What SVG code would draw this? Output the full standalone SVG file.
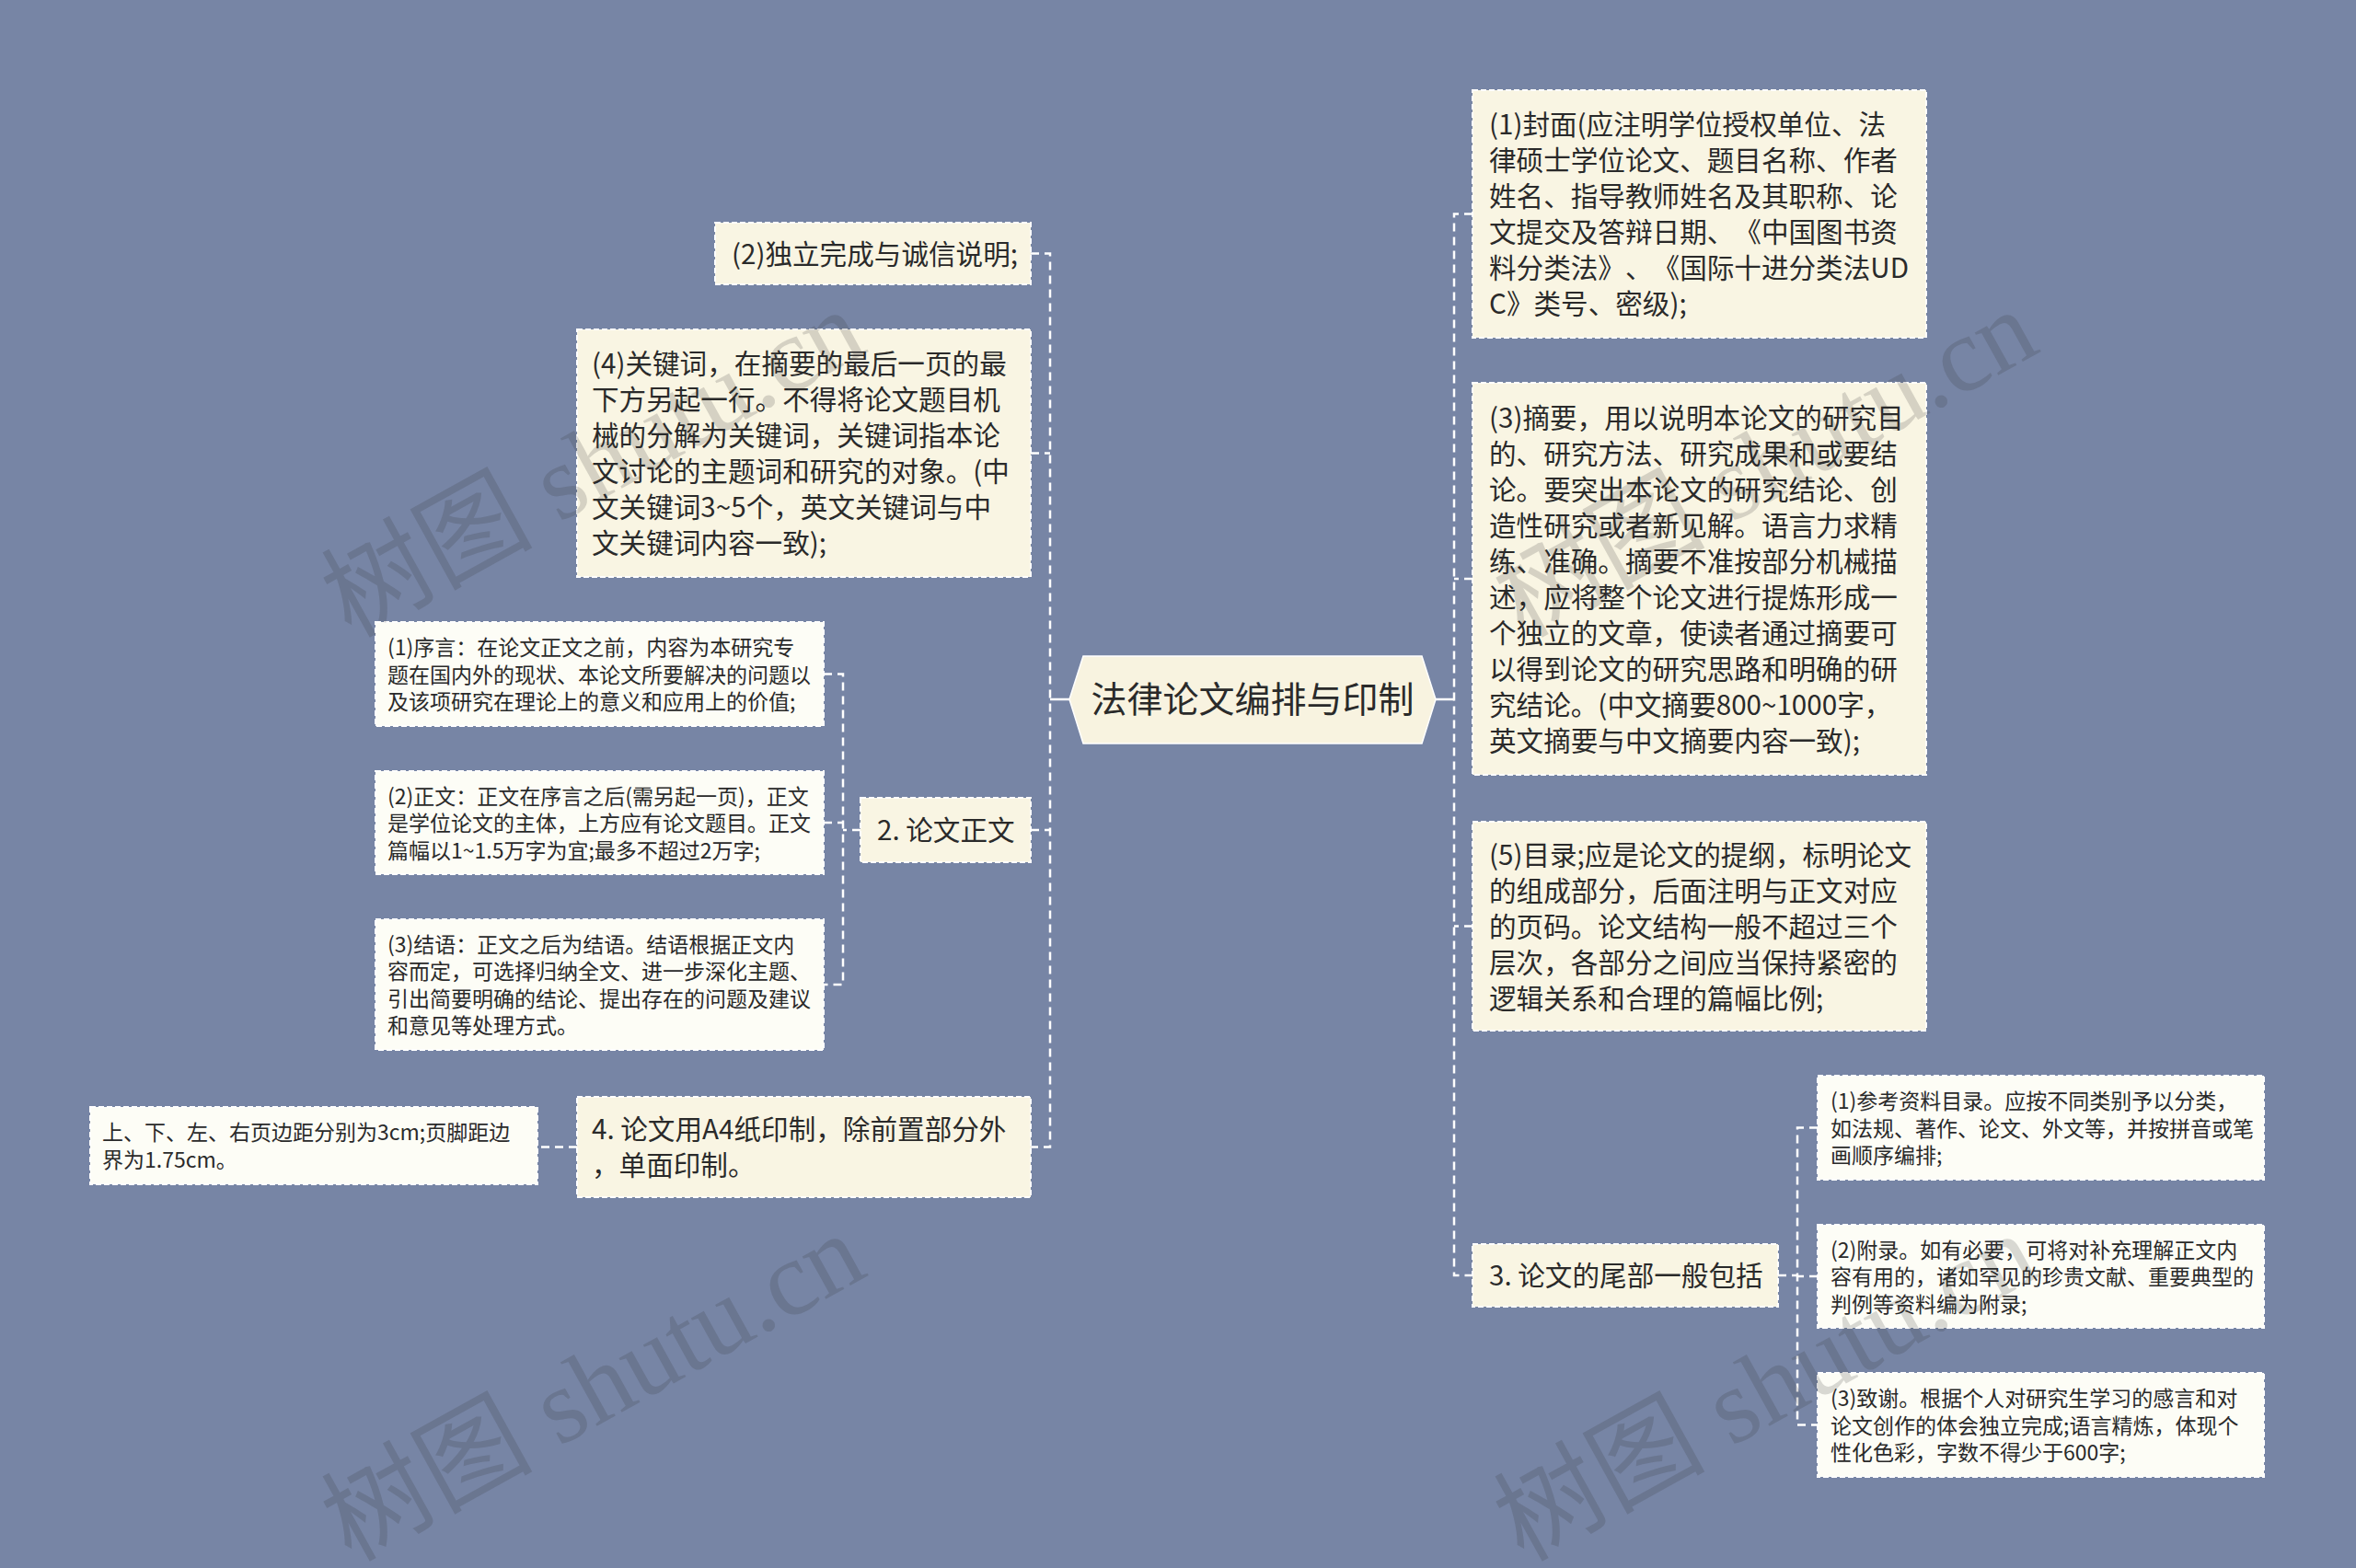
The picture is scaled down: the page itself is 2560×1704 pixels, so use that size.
<svg xmlns="http://www.w3.org/2000/svg" width="2560" height="1704" viewBox="0 0 2560 1704">
<style>
.bg{fill:#7785A5}
.n1{fill:#F9F5E3;stroke:#FFFFFF;stroke-width:2;stroke-dasharray:6 3}
.n2{fill:#FDFDF6;stroke:#FFFFFF;stroke-width:2;stroke-dasharray:6 3}
.root{fill:#F8F3E0;stroke:#FFFFFF;stroke-width:1.5}
text{text-spacing-trim:space-all}
.t1{font-family:"Noto Sans CJK SC","Noto Sans",sans-serif;font-size:29.6px;fill:#2A2A2A}
.t2{font-family:"Noto Sans CJK SC","Noto Sans",sans-serif;font-size:23px;fill:#2A2A2A}
.tr{font-family:"Noto Sans CJK SC","Noto Sans",sans-serif;font-size:39px;fill:#2A2A2A}
.c{fill:none;stroke:#FFFFFF;stroke-width:2.5;stroke-dasharray:9 6}
.cs{fill:none;stroke:#FFFFFF;stroke-width:2.5}
.wm{font-family:"Liberation Serif","Noto Sans CJK SC",serif;font-size:115px;fill:#333333;fill-opacity:0.18}
</style>
<rect class="bg" x="0" y="0" width="2560" height="1704"/>

<g id="connectors">
  <path class="cs" d="M1162 760 H1141"/>
  <path class="cs" d="M1560 760 H1580"/>
  <path class="c" d="M1120 275.5 H1141 V1246.5 H1120"/>
  <path class="c" d="M1120 492.5 H1141"/>
  <path class="c" d="M1120 902 H1141"/>
  <path class="c" d="M1600 232.5 H1580 V1386 H1600"/>
  <path class="c" d="M1600 629 H1580"/>
  <path class="c" d="M1600 1006.5 H1580"/>
  <path class="c" d="M935 902 H916"/>
  <path class="c" d="M895 732.5 H916 V1070 H895"/>
  <path class="c" d="M895 894 H916"/>
  <path class="c" d="M627 1246.5 H584"/>
  <path class="c" d="M1932 1386 H1953"/>
  <path class="c" d="M1975 1225.5 H1953 V1548.5 H1975"/>
  <path class="c" d="M1975 1387 H1953"/>
</g>

<g id="root">
  <polygon class="root" points="1162,760 1177,713 1545,713 1560,760 1545,808 1177,808"/>
  <text class="tr" x="1361" y="774" text-anchor="middle">法律论文编排与印制</text>
</g>

<g id="r1">
  <rect class="n1" x="1600" y="98" width="493" height="269"/>
  <text class="t1">
    <tspan x="1618" y="146">(1)封面(应注明学位授权单位、法</tspan>
    <tspan x="1618" y="185">律硕士学位论文、题目名称、作者</tspan>
    <tspan x="1618" y="224">姓名、指导教师姓名及其职称、论</tspan>
    <tspan x="1618" y="263">文提交及答辩日期、《中国图书资</tspan>
    <tspan x="1618" y="302">料分类法》、《国际十进分类法UD</tspan>
    <tspan x="1618" y="341">C》类号、密级);</tspan>
  </text>
</g>

<g id="r3">
  <rect class="n1" x="1600" y="416" width="493" height="426"/>
  <text class="t1">
    <tspan x="1618" y="464.5">(3)摘要，用以说明本论文的研究目</tspan>
    <tspan x="1618" y="503.5">的、研究方法、研究成果和或要结</tspan>
    <tspan x="1618" y="542.5">论。要突出本论文的研究结论、创</tspan>
    <tspan x="1618" y="581.5">造性研究或者新见解。语言力求精</tspan>
    <tspan x="1618" y="620.5">练、准确。摘要不准按部分机械描</tspan>
    <tspan x="1618" y="659.5">述，应将整个论文进行提炼形成一</tspan>
    <tspan x="1618" y="698.5">个独立的文章，使读者通过摘要可</tspan>
    <tspan x="1618" y="737.5">以得到论文的研究思路和明确的研</tspan>
    <tspan x="1618" y="776.5">究结论。(中文摘要800~1000字，</tspan>
    <tspan x="1618" y="815.5">英文摘要与中文摘要内容一致);</tspan>
  </text>
</g>

<g id="r5">
  <rect class="n1" x="1600" y="893" width="493" height="227"/>
  <text class="t1">
    <tspan x="1618" y="939.5">(5)目录;应是论文的提纲，标明论文</tspan>
    <tspan x="1618" y="978.5">的组成部分，后面注明与正文对应</tspan>
    <tspan x="1618" y="1017.5">的页码。论文结构一般不超过三个</tspan>
    <tspan x="1618" y="1056.5">层次，各部分之间应当保持紧密的</tspan>
    <tspan x="1618" y="1095.5">逻辑关系和合理的篇幅比例;</tspan>
  </text>
</g>

<g id="tail">
  <rect class="n1" x="1600" y="1352" width="332" height="68"/>
  <text class="t1" x="1618" y="1397">3. 论文的尾部一般包括</text>
</g>

<g id="tail1">
  <rect class="n2" x="1975" y="1169" width="485" height="113"/>
  <text class="t2">
    <tspan x="1989" y="1205">(1)参考资料目录。应按不同类别予以分类，</tspan>
    <tspan x="1989" y="1234.5">如法规、著作、论文、外文等，并按拼音或笔</tspan>
    <tspan x="1989" y="1264">画顺序编排;</tspan>
  </text>
</g>

<g id="tail2">
  <rect class="n2" x="1975" y="1331" width="485" height="112"/>
  <text class="t2">
    <tspan x="1989" y="1366.5">(2)附录。如有必要，可将对补充理解正文内</tspan>
    <tspan x="1989" y="1396">容有用的，诸如罕见的珍贵文献、重要典型的</tspan>
    <tspan x="1989" y="1425.5">判例等资料编为附录;</tspan>
  </text>
</g>

<g id="tail3">
  <rect class="n2" x="1975" y="1492" width="485" height="113"/>
  <text class="t2">
    <tspan x="1989" y="1528">(3)致谢。根据个人对研究生学习的感言和对</tspan>
    <tspan x="1989" y="1557.5">论文创作的体会独立完成;语言精炼，体现个</tspan>
    <tspan x="1989" y="1587">性化色彩，字数不得少于600字;</tspan>
  </text>
</g>

<g id="l2">
  <rect class="n1" x="777" y="242" width="343" height="67"/>
  <text class="t1" x="795" y="286.5">(2)独立完成与诚信说明;</text>
</g>

<g id="l4">
  <rect class="n1" x="627" y="358" width="493" height="269"/>
  <text class="t1">
    <tspan x="643" y="406">(4)关键词，在摘要的最后一页的最</tspan>
    <tspan x="643" y="445">下方另起一行。不得将论文题目机</tspan>
    <tspan x="643" y="484">械的分解为关键词，关键词指本论</tspan>
    <tspan x="643" y="523">文讨论的主题词和研究的对象。(中</tspan>
    <tspan x="643" y="562">文关键词3~5个，英文关键词与中</tspan>
    <tspan x="643" y="601">文关键词内容一致);</tspan>
  </text>
</g>

<g id="body">
  <rect class="n1" x="935" y="867" width="185" height="70"/>
  <text class="t1" x="953" y="913">2. 论文正文</text>
</g>

<g id="body1">
  <rect class="n2" x="408" y="676" width="487" height="113"/>
  <text class="t2">
    <tspan x="421" y="712">(1)序言：在论文正文之前，内容为本研究专</tspan>
    <tspan x="421" y="741.5">题在国内外的现状、本论文所要解决的问题以</tspan>
    <tspan x="421" y="771">及该项研究在理论上的意义和应用上的价值;</tspan>
  </text>
</g>

<g id="body2">
  <rect class="n2" x="408" y="838" width="487" height="112"/>
  <text class="t2">
    <tspan x="421" y="873.5">(2)正文：正文在序言之后(需另起一页)，正文</tspan>
    <tspan x="421" y="903">是学位论文的主体，上方应有论文题目。正文</tspan>
    <tspan x="421" y="932.5">篇幅以1~1.5万字为宜;最多不超过2万字;</tspan>
  </text>
</g>

<g id="body3">
  <rect class="n2" x="408" y="999" width="487" height="142"/>
  <text class="t2">
    <tspan x="421" y="1034.75">(3)结语：正文之后为结语。结语根据正文内</tspan>
    <tspan x="421" y="1064.25">容而定，可选择归纳全文、进一步深化主题、</tspan>
    <tspan x="421" y="1093.75">引出简要明确的结论、提出存在的问题及建议</tspan>
    <tspan x="421" y="1123.25">和意见等处理方式。</tspan>
  </text>
</g>

<g id="print">
  <rect class="n1" x="627" y="1192" width="493" height="109"/>
  <text class="t1">
    <tspan x="643" y="1238">4. 论文用A4纸印制，除前置部分外</tspan>
    <tspan x="643" y="1277">，单面印制。</tspan>
  </text>
</g>

<g id="print1">
  <rect class="n2" x="98" y="1203" width="486" height="84"/>
  <text class="t2">
    <tspan x="111" y="1239">上、下、左、右页边距分别为3cm;页脚距边</tspan>
    <tspan x="111" y="1268.5">界为1.75cm。</tspan>
  </text>
</g>

<g id="watermarks">
  <text class="wm" transform="translate(381,694) rotate(-29)">树图 shutu.cn</text>
  <text class="wm" transform="translate(381,1698) rotate(-29)">树图 shutu.cn</text>
  <text class="wm" transform="translate(1655,694) rotate(-29)">树图 shutu.cn</text>
  <text class="wm" transform="translate(1655,1698) rotate(-29)">树图 shutu.cn</text>
</g>
</svg>
